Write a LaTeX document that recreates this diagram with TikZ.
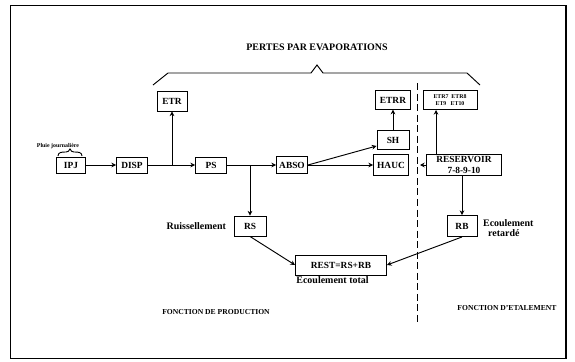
\documentclass[tikz,border=0pt]{standalone}
\usepackage{fontspec}
\setmainfont{Liberation Serif}
\usepackage{tikz}
\usetikzlibrary{positioning,arrows.meta,calc}

\begin{document}
\begin{tikzpicture}[x=0.03cm,y=-0.03cm,font=\fontsize{8}{9}\selectfont\bfseries,
  box/.style={draw,thick,inner sep=1pt,minimum height=0.55cm},
  flow/.style={-{Stealth[length=4pt,width=4pt]},thick},
  note/.style={font=\fontsize{8.5}{9}\selectfont\bfseries},
  tinylbl/.style={font=\fontsize{5}{5.5}\selectfont\bfseries}]
\useasboundingbox (0,0) rectangle (575,362);
% Frame
\draw[thick] (10,5) rectangle (566,358);
\draw[line width=1.6pt] (566,5) -- (566,358);

% Evaporation losses
\node[font=\fontsize{8.5}{9}\selectfont\bfseries] (titre) at (317,47) {PERTES PAR EVAPORATIONS};
\draw[thick] (153,85) -- (168,73) -- (311,73) -- (317,65) -- (323,73) -- (467,73) -- (480,85);

% Production chain
\node[box,minimum width=0.87cm,minimum height=0.48cm] (ipj) at (71,165) {IPJ};
\node[tinylbl] (pluie) at (58,146) {Pluie journalière};
\draw[thick] (58,156) .. controls (58,152) and (62,152) .. (66,152) .. controls (68,152) and (69,151) .. (70,149)
  .. controls (71,151) and (72,152) .. (74,152) .. controls (78,152) and (82,152) .. (82,156);
\node[box,minimum width=0.93cm,minimum height=0.48cm] (disp) at (132,165) {DISP};
\node[box,minimum width=0.93cm,minimum height=0.48cm] (ps) at (211,165) {PS};
\node[box,minimum width=0.93cm,minimum height=0.52cm] (abso) at (292,165) {ABSO};
\node[box,minimum width=0.9cm,minimum height=0.6cm] (etr) at (172,101) {ETR};
\node[box,minimum width=0.96cm,minimum height=0.6cm] (rs) at (250,226) {RS};
\node[note,left=3pt of rs] (ruis) {Ruissellement};

% Upper store
\node[box,minimum width=0.96cm,minimum height=0.57cm] (sh) at (393,140) {SH};
\node[box,minimum width=1.05cm,minimum height=0.55cm] (etrr) at (393,100) {ETRR};
\node[box,minimum width=1.05cm,minimum height=0.65cm] (hauc) at (391,165) {HAUC};

% Spreading function
\draw[thick,dash pattern=on 6pt off 3pt] (417,83) -- (417,323);
\node[box,minimum width=1.62cm,minimum height=0.57cm,align=center,tinylbl] (etrb) at (450,100) {ETR7\ \ ETR8\\ET9\ \ \ ET10};
\node[box,minimum width=2.25cm,minimum height=0.65cm,align=center,inner sep=0pt] (res) at (464,165) {RESERVOIR\\7-8-9-10};
\coordinate (cres) at (420,165);
\node[box,minimum width=0.9cm,minimum height=0.63cm] (rb) at (462,226) {RB};
\node[note,align=left,anchor=north west] (ecr) at (479,215) {Ecoulement\\\ \ retardé};

% Total flow
\node[box,minimum width=2.73cm,minimum height=0.6cm] (rest) at (341,265) {REST=RS+RB};
\node[note,anchor=north west,inner sep=1pt] (ectot) at (rest.south west) {Ecoulement total};

\node[font=\fontsize{6.5}{7}\selectfont\bfseries] (prod) at (216,312) {FONCTION DE PRODUCTION};
\node[font=\fontsize{6.5}{7}\selectfont\bfseries] (etal) at (507,308) {FONCTION D'ETALEMENT};

% Connectors
\draw[flow] (ipj) -- (disp);
\draw[flow] (disp) -- (ps);
\coordinate (j1) at (172,165);
\draw[flow] (j1) -- (etr);
\draw[flow] (ps) -- (abso);
\coordinate (j2) at (250,165);
\draw[flow] (j2) -- (rs);
\draw[flow] (abso) -- (hauc);
\draw[flow] (abso.east) -- (sh.200);
\draw[flow] (sh) -- (etrr);
\draw[flow] (res.west) -- (cres);
\draw[flow] ([xshift=0.3cm]res.north west) coordinate (r1) -- (r1 |- etrb.south);
\draw[flow] (rb.north |- res.south) -- (rb.north);
\draw[flow] (rs.south) -- (rest.west);
\draw[flow] (rb.south) -- (rest.east);
\end{tikzpicture}
\end{document}
